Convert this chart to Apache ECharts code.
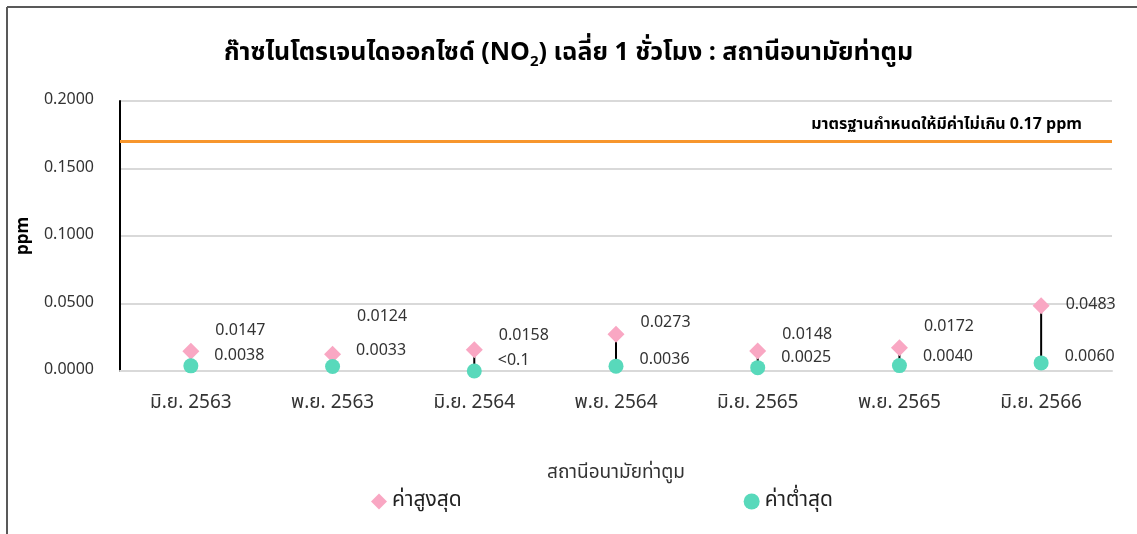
<!DOCTYPE html>
<html>
<head>
<meta charset="utf-8">
<script src="https://cdn.jsdelivr.net/npm/echarts@6/dist/echarts.min.js"></script>
<style>
  html, body { margin: 0; padding: 0; background: #fff; }
  #chart { width: 1137px; height: 534px; }
</style>
</head>
<body>
<div id="chart"></div>
<script>
var categories = ["มิ.ย. 2563", "พ.ย. 2563", "มิ.ย. 2564", "พ.ย. 2564", "มิ.ย. 2565", "พ.ย. 2565", "มิ.ย. 2566"];
var highValues = [0.0147, 0.0124, 0.0158, 0.0273, 0.0148, 0.0172, 0.0483];
var lowValues = [0.0038, 0.0033, 0, 0.0036, 0.0025, 0.0040, 0.0060];
var highLabels = ["0.0147", "0.0124", "0.0158", "0.0273", "0.0148", "0.0172", "0.0483"];
var lowLabels = ["0.0038", "0.0033", "<0.1", "0.0036", "0.0025", "0.0040", "0.0060"];
var standardValue = 0.17;

// label nudges (px, vertical) to mimic the placement in the original
var highShift = [-19, -36, -13, -10, -15, -20, 0];
var lowShift = [-9, -15, -9, -5, -9, -8, -5];

var font = '"Noto Sans Thai", "Noto Sans", Tahoma, sans-serif';

var chart = echarts.init(document.getElementById("chart"));

var option = {
  animation: false,
  textStyle: { fontFamily: font },
  title: {
    text: "ก๊าซไนโตรเจนไดออกไซด์ (NO{sub|2}) เฉลี่ย 1 ชั่วโมง : สถานีอนามัยท่าตูม",
    left: "center",
    top: 34,
    textStyle: {
      fontSize: 25,
      fontWeight: "bold",
      color: "#000",
      fontFamily: font,
      rich: {
        sub: { fontSize: 15, fontWeight: "bold", color: "#000", padding: [16, 0, 0, 0], fontFamily: font }
      }
    }
  },
  legend: {
    bottom: 17,
    left: 366,
    itemGap: 282,
    itemWidth: 16,
    itemHeight: 16,
    textStyle: { fontSize: 21, color: "#222", fontFamily: font },
    data: [
      { name: "ค่าสูงสุด", icon: "diamond" },
      { name: "ค่าต่ำสุด", icon: "circle" }
    ]
  },
  grid: { left: 120, right: 25, top: 101, bottom: 163 },
  xAxis: {
    type: "category",
    data: categories,
    name: "สถานีอนามัยท่าตูม",
    nameLocation: "middle",
    nameGap: 94,
    nameTextStyle: { fontSize: 19, color: "#333", fontFamily: font },
    axisLine: { show: true, lineStyle: { color: "#d9d9d9", width: 2 } },
    axisTick: { show: false },
    axisLabel: { fontSize: 19, color: "#333", margin: 24, fontFamily: font }
  },
  yAxis: {
    type: "value",
    min: 0,
    max: 0.2,
    interval: 0.05,
    name: "ppm",
    nameLocation: "middle",
    nameGap: 82,
    nameTextStyle: { fontSize: 17, fontWeight: "bold", color: "#000", fontFamily: font },
    axisLine: { show: true, lineStyle: { color: "#000", width: 2 } },
    axisTick: { show: false },
    axisLabel: {
      fontSize: 16,
      color: "#333",
      margin: 26,
      fontFamily: font,
      formatter: function (v) { return v.toFixed(4); }
    },
    splitLine: { lineStyle: { color: "#d9d9d9", width: 2 } }
  },
  series: [
    {
      name: "hilo",
      type: "custom",
      silent: true,
      z: 1,
      data: categories.map(function (c, i) { return [i, lowValues[i], highValues[i]]; }),
      renderItem: function (params, api) {
        var p1 = api.coord([api.value(0), api.value(1)]);
        var p2 = api.coord([api.value(0), api.value(2)]);
        return {
          type: "line",
          shape: { x1: p1[0], y1: p1[1], x2: p2[0], y2: p2[1] },
          style: { stroke: "#000", lineWidth: 2 }
        };
      }
    },
    {
      name: "ค่าสูงสุด",
      type: "scatter",
      symbol: "diamond",
      symbolSize: 17,
      z: 3,
      itemStyle: { color: "#f9a7c3", opacity: 1 },
      data: highValues.map(function (v, i) {
        return {
          value: v,
          label: {
            show: true,
            position: "right",
            distance: 16,
            offset: [0, highShift[i]],
            formatter: highLabels[i],
            fontSize: 16,
            color: "#333",
            fontFamily: font
          }
        };
      }),
      markLine: {
        silent: true,
        symbol: "none",
        lineStyle: { color: "#f7962d", width: 3, type: "solid" },
        label: {
          show: true,
          position: "insideEndTop",
          distance: [30, 8],
          formatter: "มาตรฐานกำหนดให้มีค่าไม่เกิน 0.17 ppm",
          fontSize: 16,
          fontWeight: "bold",
          color: "#000",
          fontFamily: font
        },
        data: [{ yAxis: standardValue }]
      }
    },
    {
      name: "ค่าต่ำสุด",
      type: "scatter",
      symbol: "circle",
      symbolSize: 15,
      z: 4,
      itemStyle: { color: "#58d9bb", opacity: 1 },
      data: lowValues.map(function (v, i) {
        return {
          value: v,
          label: {
            show: true,
            position: "right",
            distance: 16,
            offset: [0, lowShift[i]],
            formatter: lowLabels[i],
            fontSize: 16,
            color: "#333",
            fontFamily: font
          }
        };
      })
    }
  ],
  graphic: [
    { type: "line", silent: true, shape: { x1: 7, y1: 7, x2: 1137, y2: 7 }, style: { stroke: "#595959", lineWidth: 2 } },
    { type: "line", silent: true, shape: { x1: 7, y1: 7, x2: 7, y2: 534 }, style: { stroke: "#595959", lineWidth: 2 } }
  ]
};

chart.setOption(option);
</script>
</body>
</html>
